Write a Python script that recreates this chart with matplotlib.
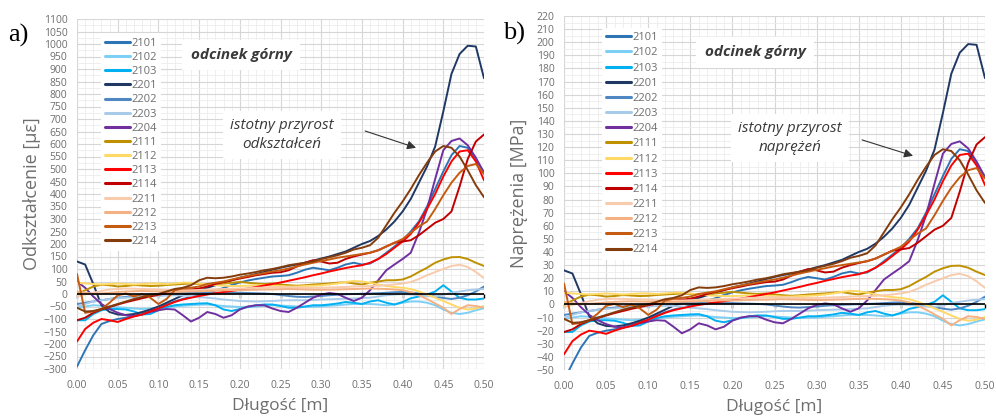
import numpy as np
import matplotlib
matplotlib.use("Agg")
import matplotlib.pyplot as plt
from matplotlib.ticker import MultipleLocator, FormatStrFormatter

plt.rcParams['font.family'] = ['Open Sans', 'DejaVu Sans']

# %% data: strain along the measured length, read off panel a) [µε]
x = np.linspace(0.0, 0.5, 51)  # length [m], 0.01 step

labels = ['2101', '2102', '2103', '2201', '2202', '2203', '2204',
          '2111', '2112', '2113', '2114', '2211', '2212', '2213', '2214']
colors = ['#2E75B6', '#7DD0F5', '#00B0F0', '#1F3864', '#4F87C2', '#A9CBEA', '#7030A0',
          '#BF9000', '#FFD966', '#FF0000', '#C00000', '#F8CBAD', '#F4B183', '#C55A11', '#843C0C']

s2101 = [-290, -225, -165, -120, -108, -100, -95, -88, -78, -68, -55, -42, -30, -20, -12, -4, 4, 14, 24, 36,
         46, 54, 60, 65, 70, 72, 75, 85, 97, 105, 100, 95, 105, 118, 125, 118, 122, 140, 165, 190,
         215, 250, 290, 350, 420, 490, 555, 592, 585, 540, 485]
s2102 = [-55, -50, -45, -47, -50, -53, -55, -58, -60, -58, -55, -52, -50, -47, -45, -43, -42, -45, -48, -50,
         -52, -51, -50, -47, -45, -46, -48, -50, -52, -51, -50, -47, -45, -42, -40, -40, -40, -42, -45, -42,
         -35, -30, -30, -35, -45, -62, -75, -80, -75, -65, -57]
s2103 = [-105, -105, -80, -65, -60, -60, -62, -70, -82, -80, -65, -52, -45, -42, -40, -38, -37, -45, -62, -68,
         -60, -52, -45, -42, -42, -48, -55, -55, -50, -45, -45, -42, -38, -32, -35, -40, -30, -25, -35, -42,
         -32, -17, -10, -2, 10, 35, 10, -15, -22, -22, -18]
s2201 = [130, 118, 40, -45, -72, -82, -84, -80, -72, -62, -50, -35, -20, -5, 5, 15, 25, 35, 45, 55,
         65, 72, 80, 88, 97, 105, 112, 118, 125, 133, 142, 150, 160, 170, 185, 200, 212, 232, 258, 290,
         330, 380, 445, 510, 590, 730, 880, 960, 993, 990, 863]
s2202 = [-40, -35, -30, -25, -20, -15, -12, -8, -5, -2, 0, 2, 3, 4, 5, 5, 5, 5, 5, 5,
         5, 4, 3, 2, 0, -4, -8, -11, -12, -10, -8, -5, -3, -1, 0, 1, 2, 3, 5, 7,
         8, 6, 2, -4, -10, -16, -20, -15, -5, 10, 30]
s2203 = [-50, -40, -30, -25, -20, -17, -15, -12, -10, -9, -8, -6, -5, -6, -8, -12, -15, -18, -22, -25,
         -28, -29, -30, -29, -28, -26, -25, -25, -25, -24, -22, -21, -20, -19, -18, -16, -15, -10, -5, -2,
         0, -2, -5, -8, -10, -3, 5, 10, 15, 18, 20]
s2204 = [50, 25, -10, -40, -60, -75, -85, -88, -82, -72, -65, -60, -62, -85, -110, -95, -72, -80, -95, -85,
         -62, -50, -45, -45, -58, -68, -72, -55, -35, -15, -2, 4, 0, -15, -28, -15, 15, 55, 95, 118,
         140, 165, 245, 340, 460, 575, 612, 622, 595, 545, 485]
s2111 = [0, 15, 30, 37, 35, 30, 32, 36, 34, 32, 33, 36, 38, 40, 42, 40, 38, 40, 42, 45,
         48, 45, 42, 40, 42, 38, 35, 33, 35, 38, 40, 42, 45, 47, 42, 38, 45, 50, 55, 55,
         58, 70, 88, 105, 125, 138, 147, 148, 140, 125, 112]
s2112 = [45, 42, 40, 38, 40, 42, 40, 38, 40, 42, 42, 40, 42, 45, 45, 42, 38, 35, 33, 32,
         32, 33, 35, 35, 33, 32, 30, 30, 32, 33, 35, 38, 42, 48, 52, 50, 45, 38, 32, 28,
         25, 20, 10, -2, -15, -28, -42, -55, -62, -58, -48]
s2113 = [-190, -140, -115, -100, -105, -112, -100, -90, -82, -70, -58, -45, -32, -22, -15, -8, -2, 3, 8, 12,
         17, 22, 28, 34, 40, 46, 53, 60, 67, 75, 82, 90, 97, 104, 110, 115, 125, 140, 160, 185,
         210, 240, 285, 340, 400, 470, 530, 570, 575, 530, 455]
s2114 = [-105, -95, -75, -62, -52, -42, -33, -25, -17, -10, -3, 3, 10, 15, 18, 22, 30, 40, 48, 55,
         62, 68, 75, 80, 85, 87, 95, 110, 125, 135, 130, 122, 125, 140, 150, 158, 165, 175, 190, 205,
         210, 215, 235, 260, 285, 300, 330, 430, 540, 610, 638]
s2211 = [-10, -2, 5, 12, 18, 20, 22, 21, 20, 19, 18, 16, 15, 15, 15, 16, 18, 19, 20, 21,
         22, 23, 25, 26, 27, 27, 27, 26, 25, 25, 25, 26, 27, 28, 30, 31, 32, 33, 35, 38,
         42, 48, 60, 75, 88, 100, 112, 117, 108, 88, 63]
s2212 = [10, 5, 0, 2, 5, 8, 10, 11, 12, 11, 10, 9, 8, 9, 10, 11, 12, 13, 15, 15,
         15, 16, 17, 18, 18, 19, 20, 19, 18, 17, 17, 17, 18, 19, 20, 21, 22, 21, 20, 18,
         15, 8, -5, -20, -38, -55, -80, -60, -45, -48, -55]
s2213 = [80, -75, -70, -60, -35, -5, 2, -10, 0, -15, -40, -20, 15, 22, 25, 30, 40, 45, 50, 58,
         65, 72, 78, 84, 90, 95, 102, 110, 118, 125, 132, 138, 145, 150, 155, 160, 165, 175, 190, 205,
         220, 245, 270, 290, 340, 395, 445, 485, 512, 520, 480]
s2214 = [-55, -70, -68, -60, -50, -40, -30, -20, -12, -5, 0, 10, 20, 25, 35, 55, 65, 63, 65, 70,
         77, 82, 88, 95, 100, 107, 115, 120, 125, 130, 140, 147, 155, 165, 178, 185, 195, 225, 275, 325,
         370, 420, 475, 525, 570, 592, 585, 550, 495, 435, 387]

strain = [s2101, s2102, s2103, s2201, s2202, s2203, s2204,
          s2111, s2112, s2113, s2114, s2211, s2212, s2213, s2214]

# panel b) is the same record as stress, sigma = E * eps with E = 200 GPa
E_MPA_PER_UE = 0.2
stress = [[v * E_MPA_PER_UE for v in s] for s in strain]

GRAY = '#6E6E6E'
FIG_H = 416


def place_legend(ax, text_x, first_y, last_y, fontsize=8):
    # tune spacing/anchor so the legend rows land where they are in the original
    fig = ax.figure
    pitch = (last_y - first_y) / (len(labels) - 1)
    sp, anchor = 0.3, [0.05, 0.97]
    box = ax.get_window_extent()
    for i in range(6):
        leg = ax.legend(loc='upper left', bbox_to_anchor=tuple(anchor), fontsize=fontsize,
                        handlelength=2.2, handletextpad=0.15, labelspacing=sp,
                        borderpad=0.4, frameon=True, fancybox=False, framealpha=1)
        if i == 5:
            break
        fig.canvas.draw()
        r = fig.canvas.get_renderer()
        ext = [t.get_window_extent(r) for t in leg.get_texts()]
        cy = [FIG_H - (e.y0 + e.y1) / 2 for e in ext]
        cur = (cy[-1] - cy[0]) / (len(cy) - 1)
        sp += (pitch - cur) / (fontsize * 100 / 72)
        anchor[0] += (text_x - ext[0].x0) / box.width
        anchor[1] -= (first_y - cy[0]) / box.height
    leg.get_frame().set_edgecolor('none')
    for t in leg.get_texts():
        t.set_color(GRAY)
    for h in leg.get_lines():
        h.set_linewidth(2.2)


def draw_panel(ax, series, ylim, ymajor, yminor, ylabel, note, tag, tag_xy,
               leg_pos, note_xy, big_xy, arrow_tail, arrow_head, ylabelpad):
    for y, c, lab in zip(series, colors, labels):
        ax.plot(x, y, color=c, lw=1.4, label=lab, solid_capstyle='round')

    ax.set_xlim(0, 0.5)
    ax.set_ylim(*ylim)
    ax.xaxis.set_major_locator(MultipleLocator(0.05))
    ax.xaxis.set_minor_locator(MultipleLocator(0.01))
    ax.yaxis.set_major_locator(MultipleLocator(ymajor))
    ax.yaxis.set_minor_locator(MultipleLocator(yminor))
    ax.xaxis.set_major_formatter(FormatStrFormatter('%.2f'))
    ax.grid(which='major', color='#D6D6D6', lw=0.8)
    ax.grid(which='minor', color='#ECECEC', lw=0.6)
    ax.set_axisbelow(True)
    ax.tick_params(which='both', length=0, labelsize=7.5, labelcolor=GRAY)
    ax.tick_params(axis='x', pad=8)
    ax.tick_params(axis='y', pad=7)
    for sp in ax.spines.values():
        sp.set_visible(False)

    # black horizontal axis crossing at zero, with small tick marks
    ax.axhline(0, color='k', lw=1.2, zorder=2.6)
    zero = -ylim[0] / (ylim[1] - ylim[0])
    sec = ax.secondary_xaxis(zero)
    sec.xaxis.set_major_locator(MultipleLocator(0.05))
    sec.tick_params(direction='out', length=3, width=1, color='k', labelbottom=False)
    sec.spines['bottom'].set_visible(False)

    ax.set_xlabel('Długość [m]', fontsize=12.5, color=GRAY, labelpad=5)
    ax.set_ylabel(ylabel, fontsize=13, color=GRAY, labelpad=ylabelpad)

    place_legend(ax, *leg_pos)

    ax.text(note_xy[0], note_xy[1], 'odcinek górny', transform=ax.transAxes,
            fontsize=11, fontweight='bold', fontstyle='italic', color='#3A3A3A',
            ha='center', va='center',
            bbox=dict(facecolor='white', edgecolor='none', pad=6))
    ax.text(big_xy[0], big_xy[1], note, transform=ax.transAxes,
            fontsize=11, fontstyle='italic', color='#3A3A3A', ha='center', va='center',
            linespacing=1.35, bbox=dict(facecolor='white', edgecolor='none', pad=5))
    ax.annotate('', xy=arrow_head, xytext=arrow_tail, xycoords='axes fraction',
                arrowprops=dict(arrowstyle='-|>', color='#333333', lw=0.8,
                                mutation_scale=13, shrinkA=0, shrinkB=0))

    ax.figure.text(tag_xy[0], tag_xy[1], tag, fontsize=19, family='Liberation Serif',
                   ha='left', va='center', color='black')


fig = plt.figure(figsize=(9.96, 4.16), dpi=100)
ax_a = fig.add_axes([77 / 996, 47 / 416, 407 / 996, 350 / 416])
ax_b = fig.add_axes([564 / 996, 46 / 416, 421 / 996, 354 / 416])

draw_panel(ax_a, strain, (-300, 1100), 50, 25, 'Odkształcenie [µε]',
           'istotny przyrost\nodkształceń', 'a)', (0.008, 0.915),
           (131.5, 43.3, 241.5), (0.403, 0.897), (0.504, 0.669),
           (0.708, 0.68), (0.833, 0.632), 2)
draw_panel(ax_b, stress, (-50, 220), 10, 5, 'Naprężenia [MPa]',
           'istotny przyrost\nnaprężeń', 'b)', (0.505, 0.92),
           (632.5, 37.7, 250.0), (0.454, 0.898), (0.537, 0.655),
           (0.708, 0.65), (0.829, 0.605), 6)

fig.savefig('out.png', dpi=100)
